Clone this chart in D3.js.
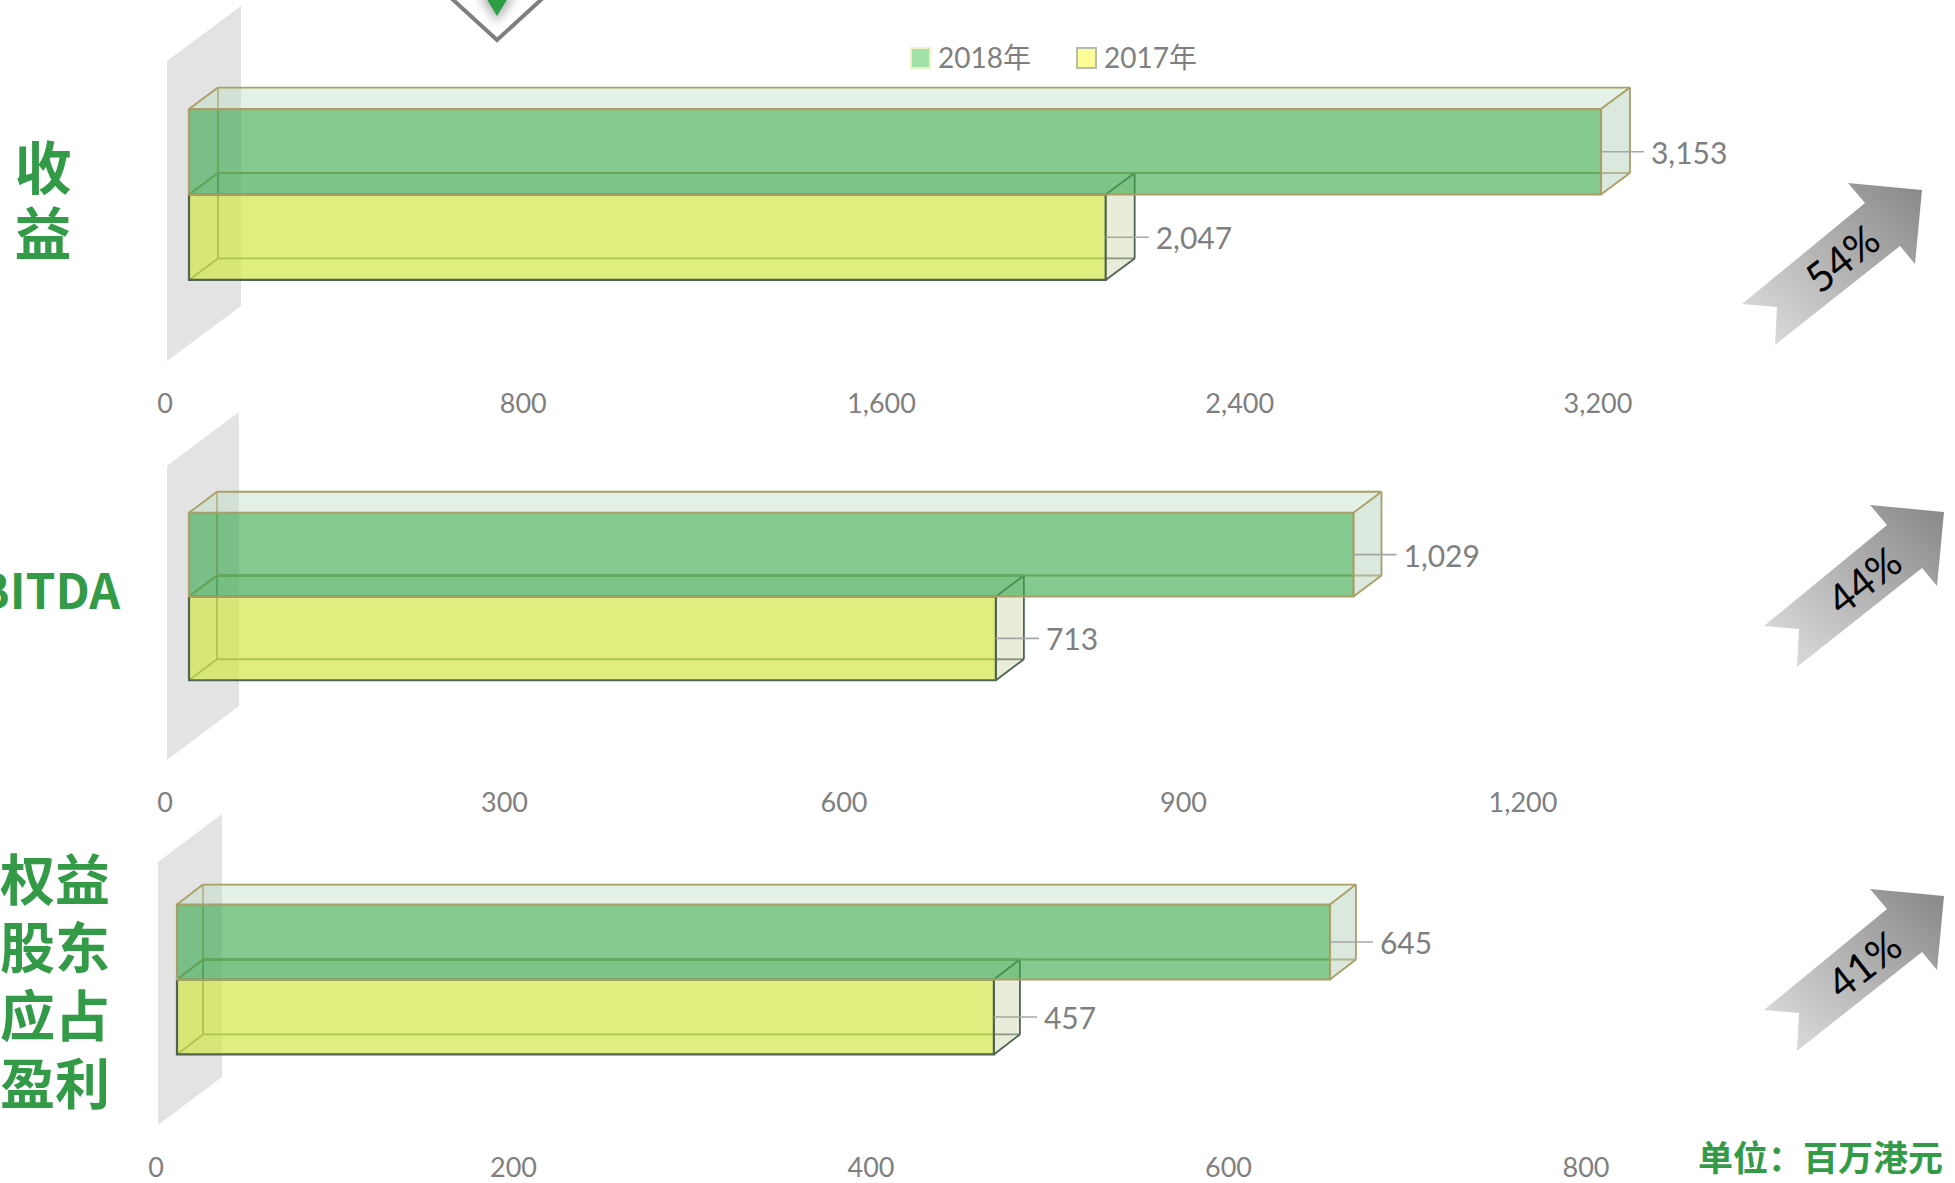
<!DOCTYPE html>
<html><head><meta charset="utf-8">
<script src="https://cdn.jsdelivr.net/npm/d3@7"></script>
<style>html,body{margin:0;padding:0;background:#fff;overflow:hidden}</style>
</head><body>
<svg id="chart" width="1955" height="1183" xmlns="http://www.w3.org/2000/svg"></svg>
<script>
// ---------- DATA ----------
const categories = ["收益", "EBITDA", "权益股东应占盈利"];
const seriesNames = ["2018年", "2017年"];
const values2018 = [3153, 1029, 645];
const values2017 = [2047, 713, 457];
const growthLabels = ["54%", "44%", "41%"];
const axisMax = [3200, 1200, 800];
const tickValues = [
  [0, 800, 1600, 2400, 3200],
  [0, 300, 600, 900, 1200],
  [0, 200, 400, 600, 800]
];
const categoryLines = [["收", "益"], ["EBITDA"], ["权益", "股东", "应占", "盈利"]];
const unitText = "单位：百万港元";

// ---------- LAYOUT ----------
const layout = [
  {x0:167, x1:1600, yTop:61,  h:300, wall:[74,-55], f:[22,-16.5], b:[51,-38],   arrow:[1742,183], lab:{x:43,  y:201, size:57, lh:66, anchor:"middle"}},
  {x0:167, x1:1525, yTop:466, h:294, wall:[72,-54], f:[22,-16.5], b:[50,-37.5], arrow:[1764,505], lab:{x:120, y:592, size:48, lh:0,  anchor:"end"}},
  {x0:158, x1:1588, yTop:862, h:263, wall:[64,-48], f:[19,-14],   b:[45,-34],   arrow:[1764,889], lab:{x:55,  y:982, size:55, lh:68, anchor:"middle"}}
];
const GREEN_TXT = "#339b47";
const GRAY_TXT = "#7f7f7f";
const styles = {
  "2018年": {front:"rgb(60,170,80)", frontA:0.6, top:"rgb(200,225,205)", topA:0.35, right:"rgb(190,210,195)", rightA:0.45, edge:"#a99e66", hiddenEdge:"#a99e66"},
  "2017年": {front:"rgb(212,232,80)", frontA:0.72, top:"rgb(200,225,205)", topA:0.35, right:"rgb(210,215,185)", rightA:0.45, edge:"#4f6454", hiddenEdge:"#4f6454"}
};

const svg = d3.select("#chart");
svg.append("rect").attr("width",1955).attr("height",1183).attr("fill","#fff");

const defs = svg.append("defs");
const grad = defs.append("linearGradient").attr("id","arrowGrad")
  .attr("x1","0").attr("y1","1").attr("x2","1").attr("y2","0");
grad.append("stop").attr("offset","0%").attr("stop-color","#e2e2e2");
grad.append("stop").attr("offset","100%").attr("stop-color","#878787");
const blur = defs.append("filter").attr("id","softBlur").attr("x","-50%").attr("y","-50%").attr("width","200%").attr("height","200%");
blur.append("feGaussianBlur").attr("stdDeviation","5");

// top marker (partially visible shape from the slide)
const mk = svg.append("g");
mk.append("path").attr("d","M478,-4 L497,22 L516,-4 Z").attr("fill","#9a9a9a").attr("filter","url(#softBlur)").attr("opacity",0.7);
mk.append("path").attr("d","M486,-2 L508,-2 L497,16 Z").attr("fill","#2e9e46");
mk.append("path").attr("d","M450,-3 L497,40 L544,-3").attr("fill","none").attr("stroke","#7f7f7f").attr("stroke-width",4);

const poly = pts => "M" + pts.map(p => p[0] + "," + p[1]).join("L") + "Z";
const line = (a, b) => "M" + a[0] + "," + a[1] + "L" + b[0] + "," + b[1];

function drawBox(g, xa, xb, ya, yb, f, b, st) {
  const F = (x, y) => [x + f[0], y + f[1]];
  const B = (x, y) => [x + b[0], y + b[1]];
  const ftl = F(xa, ya), ftr = F(xb, ya), fbl = F(xa, yb), fbr = F(xb, yb);
  const btl = B(xa, ya), btr = B(xb, ya), bbl = B(xa, yb), bbr = B(xb, yb);
  [[btl, btr, bbr, bbl], [fbl, fbr, bbr, bbl], [ftl, btl, bbl, fbl]].forEach(p =>
    g.append("path").attr("d", poly(p)).attr("fill", st.front).attr("fill-opacity", 0.07));
  [[btl, bbl], [bbl, bbr], [fbl, bbl]].forEach(e =>
    g.append("path").attr("d", line(e[0], e[1])).attr("stroke", st.hiddenEdge).attr("stroke-width", 1.8).attr("fill", "none"));
  g.append("path").attr("d", poly([ftl, ftr, btr, btl])).attr("fill", st.top).attr("fill-opacity", st.topA);
  g.append("path").attr("d", poly([ftr, btr, bbr, fbr])).attr("fill", st.right).attr("fill-opacity", st.rightA);
  g.append("path").attr("d", poly([ftl, ftr, fbr, fbl])).attr("fill", st.front).attr("fill-opacity", st.frontA);
  [[ftl, btl], [btl, btr], [ftr, btr], [btr, bbr], [fbr, bbr]].forEach(e =>
    g.append("path").attr("d", line(e[0], e[1])).attr("stroke", st.edge).attr("stroke-width", 1.8).attr("fill", "none"));
  g.append("path").attr("d", poly([ftl, ftr, fbr, fbl])).attr("fill", "none").attr("stroke", st.edge).attr("stroke-width", 2.2);
  return {frontRight: ftr[0], cy: (ftl[1] + fbl[1]) / 2};
}

const arrowShape = [[106,0],[180,7],[173,81],[158,63],[33,162],[35,124],[0,121],[123,20]];

categories.forEach((cat, i) => {
  const L = layout[i];
  const g = svg.append("g");
  const x = d3.scaleLinear().domain([0, axisMax[i]]).range([L.x0, L.x1]);
  const y = d3.scaleBand().domain(seriesNames).range([L.yTop, L.yTop + L.h]).paddingInner(0).paddingOuter(0.755);
  const yBot = L.yTop + L.h;

  g.append("path").attr("d", poly([[L.x0, L.yTop], [L.x0 + L.wall[0], L.yTop + L.wall[1]], [L.x0 + L.wall[0], yBot + L.wall[1]], [L.x0, yBot]]))
    .attr("fill", "#e3e3e3");

  const vals = {"2018年": values2018[i], "2017年": values2017[i]};
  const ends = {};
  ["2017年", "2018年"].forEach(s => {
    ends[s] = drawBox(g, x(0), x(vals[s]), y(s), y(s) + y.bandwidth(), L.f, L.b, styles[s]);
  });

  seriesNames.forEach(s => {
    const e = ends[s];
    const lx = e.frontRight + 50;
    g.append("path").attr("d", line([e.frontRight, e.cy], [lx - 7, e.cy])).attr("stroke", "#a6a6a6").attr("stroke-width", 1.6);
    g.append("text").attr("x", lx).attr("y", e.cy).attr("dominant-baseline", "central")
      .attr("font-family", "Lato, 'Noto Sans', sans-serif").attr("font-size", 30).attr("fill", GRAY_TXT)
      .text(d3.format(",")(vals[s]));
  });

  g.selectAll(".tick").data(tickValues[i]).enter().append("text")
    .attr("x", d => x(d) - 2).attr("y", yBot + 41)
    .attr("text-anchor", "middle").attr("dominant-baseline", "central")
    .attr("font-family", "Lato, 'Noto Sans', sans-serif").attr("font-size", 27).attr("fill", GRAY_TXT)
    .text(d => d3.format(",")(d));

  // category label as one text block with line tspans
  const lines = categoryLines[i];
  const lb = L.lab;
  const t = g.append("text").attr("text-anchor", lb.anchor)
    .attr("font-family", "'Noto Sans CJK SC', 'Noto Sans', sans-serif").attr("font-weight", 700)
    .attr("font-size", lb.size).attr("fill", GREEN_TXT);
  lines.forEach((s, j) => {
    t.append("tspan").attr("x", lb.x).attr("y", lb.y + (j - (lines.length - 1) / 2) * lb.lh + lb.size * 0.36).text(s);
  });

  const ag = g.append("g").attr("transform", `translate(${L.arrow[0]},${L.arrow[1]})`);
  ag.append("path").attr("d", poly(arrowShape)).attr("fill", "url(#arrowGrad)");
  ag.append("text").attr("transform", "translate(100,75) rotate(-38)")
    .attr("text-anchor", "middle").attr("dominant-baseline", "central")
    .attr("font-family", "Lato, 'Noto Sans', sans-serif").attr("font-size", 41).attr("fill", "#000")
    .text(growthLabels[i]);
});

// legend
const legendPos = [{sx:911, tx:938}, {sx:1077, tx:1104}];
const legendFill = {"2018年": ["#a0e2aa", "#eef0c8"], "2017年": ["#fdfd98", "#b6beae"]};
seriesNames.forEach((s, k) => {
  svg.append("rect").attr("x", legendPos[k].sx).attr("y", 48).attr("width", 19).attr("height", 20)
    .attr("fill", legendFill[s][0]).attr("stroke", legendFill[s][1]).attr("stroke-width", 2);
  svg.append("text").attr("x", legendPos[k].tx).attr("y", 57).attr("dominant-baseline", "central")
    .attr("font-family", "Lato, 'Noto Sans CJK SC', sans-serif").attr("font-size", 28).attr("fill", GRAY_TXT).text(s);
});

svg.append("text").attr("x", 1943).attr("y", 1155).attr("text-anchor", "end").attr("dominant-baseline", "central")
  .attr("font-family", "'Noto Sans CJK SC', sans-serif").attr("font-weight", 700).attr("font-size", 35)
  .attr("fill", GREEN_TXT).text(unitText);
</script>
</body></html>
